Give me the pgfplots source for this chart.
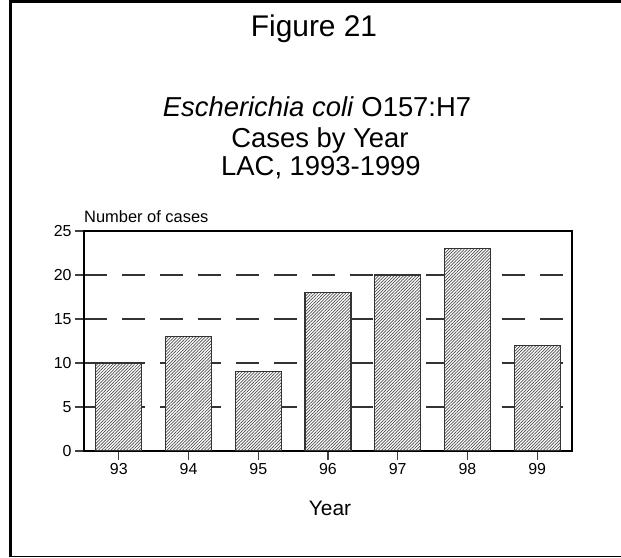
\documentclass[border=0pt]{standalone}
\usepackage{fontspec}
\setmainfont{Liberation Sans}
\usepackage{pgfplots}
\pgfplotsset{compat=1.18}
\usetikzlibrary{patterns.meta}
\begin{document}
\begin{tikzpicture}
\path[use as bounding box] (0,0) rectangle (621bp,558bp);
% frame (left, top, bottom)
\draw[line width=3bp] (9bp,556bp) -- (621bp,556bp);
\draw[line width=3bp] (10.5bp,557.5bp) -- (10.5bp,1bp);
\draw[line width=1.5bp] (9bp,1.5bp) -- (621bp,1.5bp);
% titles
\node[anchor=base, font=\fontsize{30}{36}\selectfont] at (314bp,521bp) {Figure 21};
\node[anchor=base, font=\fontsize{27.5}{32}\selectfont] at (317bp,441bp) {\textit{Escherichia coli} O157:H7};
\node[anchor=base, font=\fontsize{27.5}{32}\selectfont] at (320bp,410bp) {Cases by Year};
\node[anchor=base, font=\fontsize{27.5}{32}\selectfont] at (321bp,382bp) {LAC, 1993-1999};
\node[anchor=base west, inner sep=0pt, font=\fontsize{16.5}{19}\selectfont] at (84bp,335bp) {Number of cases};
\node[anchor=base, font=\fontsize{21}{25}\selectfont] at (330bp,42bp) {Year};
\begin{axis}[
    at={(84bp,107bp)}, anchor=south west, scale only axis,
    width=488bp, height=220bp,
    xmin=-0.5, xmax=6.5, ymin=0, ymax=25,
    ytick={0,5,10,15,20,25},
    xtick={0,1,2,3,4,5,6},
    xticklabels={93,94,95,96,97,98,99},
    xtick pos=bottom, ytick pos=left,
    tick align=outside, major tick length=9bp,
    axis line style={line width=1.4bp, black},
    tick style={line width=1.2bp, black!75},
    ymajorgrids,
    major grid style={line width=1.2bp, black!80, dash pattern=on 23bp off 15bp},
    tick label style={font=\fontsize{16}{19}\selectfont},
    /pgf/number format/assume math mode=true,
]
\addplot[ybar, bar width=46bp, draw=black!80, line width=1.2bp, fill=white,
    postaction={pattern={Lines[angle=45,distance=2.2bp,line width=0.7bp]}, pattern color=black!70}]
    coordinates {(0,10) (1,13) (2,9) (3,18) (4,20) (5,23) (6,12)};
\end{axis}
\end{tikzpicture}
\end{document}
